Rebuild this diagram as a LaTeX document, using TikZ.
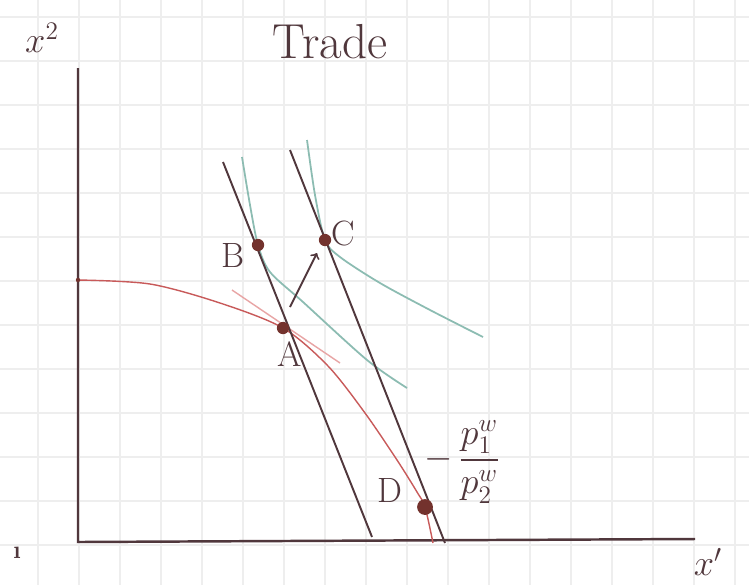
\documentclass[tikz,border=0pt]{standalone}
\usepackage{amsmath}
\usepackage{amssymb}
\definecolor{inkdark}{RGB}{80,55,60}
\definecolor{inkred}{RGB}{200,90,90}
\definecolor{inkpink}{RGB}{232,165,165}
\definecolor{inkgreen}{RGB}{140,188,178}
\definecolor{inkdot}{RGB}{115,50,45}
\definecolor{paperline}{RGB}{238,238,238}
\tikzset{
  pt/.style={circle,fill=inkdot,inner sep=0pt,minimum size=7pt},
  lbl/.style={text=inkdark,font=\fontsize{20}{22}\selectfont},
  pline/.style={inkdark,line width=1.1pt},
  ic/.style={inkgreen,line width=1pt}
}
\begin{document}
\begin{tikzpicture}[x=0.02cm,y=-0.02cm]
      % 1. Paper (grid)
      \useasboundingbox (0,0) rectangle (749,585);
      \fill[white] (0,0) rectangle (749,585);
      \foreach \gx in {38,79,...,735} \draw[paperline,line width=0.8pt] (\gx,0) -- (\gx,585);
      \foreach \gy in {17,61,...,585} \draw[paperline,line width=0.8pt] (0,\gy) -- (749,\gy);

      % 2. Axes
      \coordinate (top) at (78,68);
      \coordinate (origin) at (78,542);
      \coordinate (right) at (695,539);
      \draw[inkdark,line width=1.4pt] (top) -- (origin) -- (right);
      \node[lbl] (xtwo) at (42,38) {$x^2$};
      \node[lbl] (xone) at (708,562) {$x'$};
      \node[lbl,font=\Large\bfseries] (tick) at (17,553) {\i};
      \node[lbl,font=\fontsize{28}{30}\selectfont] (title) at (330,42) {Trade};

      % 3. Production possibility frontier
      \draw[inkred,line width=0.8pt] plot[smooth] coordinates
        {(78,280) (150,284) (220,303) (283,328) (328,366) (365,413) (397,460) (417,492) (425,507) (433,543)};
      \fill[inkdot] (78,280) circle (2.2);

      % 4. Indifference curves
      \draw[ic] plot[smooth] coordinates
        {(242,157) (250,205) (258,245) (270,272) (303,302) (367,360) (407,388)};
      \draw[ic] plot[smooth] coordinates
        {(307,140) (315,195) (325,240) (340,257) (380,283) (430,310) (483,337)};

      % 5. Price lines
      \draw[inkpink,line width=0.8pt] (232,290) -- (340,363);
      \coordinate (lefttop) at (223,162);
      \coordinate (leftend) at (372,537);
      \coordinate (righttop) at (290,150);
      \coordinate (rightend) at (445,543);
      \draw[pline] (lefttop) -- (leftend);
      \draw[pline] (righttop) -- (rightend);

      % 6. Points
      \node[pt] (A) at (283,328) {};
      \node[pt] (B) at (258,245) {};
      \node[pt] (C) at (325,240) {};
      \node[pt,minimum size=9pt] (D) at (425,507) {};
      \node[lbl] (Alab) at (290,354) {A};
      \node[lbl] (Blab) at (233,255) {B};
      \node[lbl] (Clab) at (343,233) {C};
      \node[lbl] (Dlab) at (390,490) {D};

      % 7. Move from A towards C
      \coordinate (arrowstart) at (290,307);
      \coordinate (arrowend) at (317,253);
      \draw[->,inkdark,line width=1.1pt] (arrowstart) -- (arrowend);

      % 8. World price ratio
      \node[lbl,font=\fontsize{22}{24}\selectfont] (ratio) at (462,462) {$-\,\dfrac{p_1^{w}}{p_2^{w}}$};
\end{tikzpicture}
\end{document}
